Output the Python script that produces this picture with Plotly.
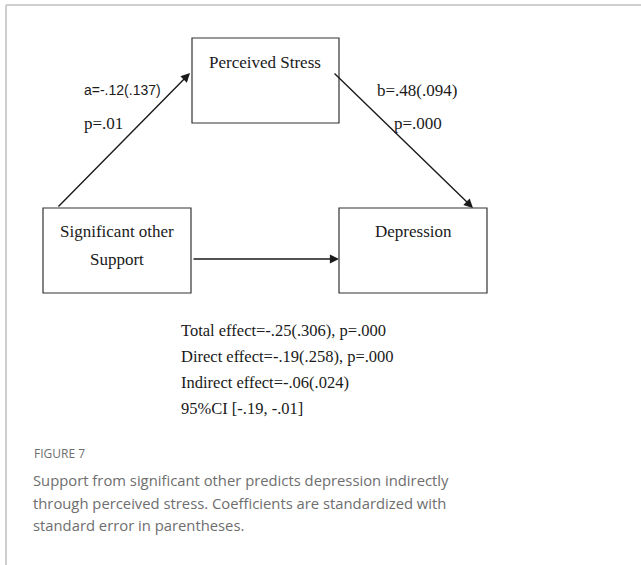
import plotly.graph_objects as go

# diagram content
node_labels = ["Perceived Stress", "Significant other", "Support", "Depression"]
path_a = ["a=-.12(.137)", "p=.01"]
path_b = ["b=.48(.094)", "p=.000"]
effects = [
    "Total effect=-.25(.306), p=.000",
    "Direct effect=-.19(.258), p=.000",
    "Indirect effect=-.06(.024)",
    "95%CI [-.19, -.01]",
]
fig_label = "FIGURE 7"
caption = [
    "Support from significant other predicts depression indirectly",
    "through perceived stress. Coefficients are standardized with",
    "standard error in parentheses.",
]

W, H = 641, 565
SERIF = "Liberation Serif, Times New Roman, serif"
SANS = "Open Sans, Lato, sans-serif"
INK = "#1a1a1a"
GREY = "#6e6e6e"

# box geometry (pixel coords, y down)
boxes = [(192, 38, 339, 123), (43, 208, 191, 293), (339, 208, 487, 293)]
label_pos = [(265, 62), (117, 231), (117, 259), (413, 231)]

fig = go.Figure()
shapes = []
annotations = []

# outer frame (top + left edge of the page card)
shapes.append(dict(type="line", x0=6, y0=5, x1=W, y1=5, line=dict(color="#cfcfcf", width=2)))
shapes.append(dict(type="line", x0=6, y0=5, x1=6, y1=H, line=dict(color="#cfcfcf", width=2)))

for x0, y0, x1, y1 in boxes:
    shapes.append(dict(type="rect", x0=x0, y0=y0, x1=x1, y1=y1,
                       line=dict(color="#333333", width=1.2)))
for (lx, ly), label in zip(label_pos, node_labels):
    annotations.append(dict(x=lx, y=ly, text=label, showarrow=False,
                            font=dict(family=SERIF, size=17, color=INK),
                            xanchor="center", yanchor="middle"))

# arrows: (tail, head)
arrows = [
    ((57, 208), (190, 73)),
    ((333, 72), (473, 208)),
    ((192, 259), (339, 259)),
]
for (tx, ty), (hx, hy) in arrows:
    annotations.append(dict(x=hx, y=hy, ax=tx, ay=ty, xref="x", yref="y",
                            axref="x", ayref="y", text="", showarrow=True,
                            arrowhead=2, arrowsize=1.3, arrowwidth=1.4,
                            arrowcolor=INK, standoff=0))

# path coefficient labels
annotations.append(dict(x=82, y=90, text=path_a[0], showarrow=False, xanchor="left",
                        yanchor="middle",
                        font=dict(family="Liberation Sans Narrow, Liberation Sans, sans-serif",
                                  size=14, color=INK)))
annotations.append(dict(x=82, y=123, text=path_a[1], showarrow=False, xanchor="left",
                        yanchor="middle", font=dict(family=SERIF, size=17, color=INK)))
annotations.append(dict(x=375, y=90, text=path_b[0], showarrow=False, xanchor="left",
                        yanchor="middle", font=dict(family=SERIF, size=17, color=INK)))
annotations.append(dict(x=392, y=123, text=path_b[1], showarrow=False, xanchor="left",
                        yanchor="middle", font=dict(family=SERIF, size=17, color=INK)))

# effect summary
for i, line in enumerate(effects):
    annotations.append(dict(x=179, y=330 + i * 26, text=line, showarrow=False,
                            xanchor="left", yanchor="middle",
                            font=dict(family=SERIF, size=16.5, color=INK)))

# caption
annotations.append(dict(x=32, y=453, text=fig_label, showarrow=False, xanchor="left",
                        yanchor="middle", font=dict(family=SANS, size=12, color=GREY)))
for i, line in enumerate(caption):
    annotations.append(dict(x=31, y=480 + i * 22.5, text=line, showarrow=False,
                            xanchor="left", yanchor="middle",
                            font=dict(family=SANS, size=14.8, color=GREY)))

fig.update_layout(
    width=W, height=H,
    margin=dict(l=0, r=0, t=0, b=0),
    paper_bgcolor="white", plot_bgcolor="white",
    xaxis=dict(range=[0, W], visible=False, fixedrange=True),
    yaxis=dict(range=[H, 0], visible=False, fixedrange=True),
    shapes=shapes, annotations=annotations, showlegend=False,
)

fig.write_html("out.html", config={"displayModeBar": False},
               post_script="document.body.style.margin='0';")
